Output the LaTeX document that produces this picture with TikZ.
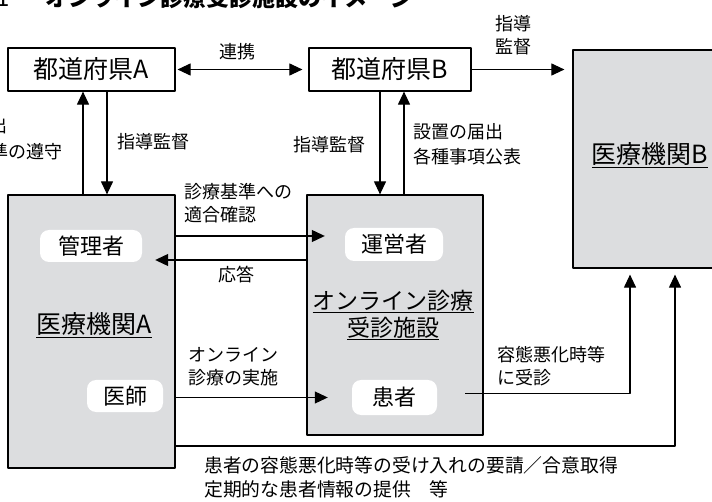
\documentclass[tikz,border=0pt]{standalone}
\usepackage{fontspec}
\setmainfont{Noto Sans CJK JP}
\usetikzlibrary{arrows.meta,calc}
\definecolor{boxgray}{RGB}{220,221,223}
\tikzset{
  pref/.style={draw, fill=white, line width=1.2pt, inner sep=0pt,
    font=\fontsize{25}{28}\selectfont},
  facil/.style={draw, fill=boxgray, line width=1.2pt, inner sep=0pt},
  role/.style={fill=white, rounded corners=9pt, inner sep=0pt,
    font=\fontsize{22}{26}\selectfont},
  lbl/.style={font=\fontsize{18}{23}\selectfont, align=left, inner sep=0pt},
  conn/.style={line width=1.1pt}
}
\begin{document}
\begin{tikzpicture}[x=1pt, y=-1pt, line join=round, >={Triangle[length=13pt,width=12pt]}]
\useasboundingbox (0,0) rectangle (712,502);
% title (cut at the top)
\node[anchor=base east, font=\fontsize{24}{28}\selectfont] (fig) at (13,7) {図1};
\node[anchor=base west, font=\bfseries\fontsize{23}{28}\selectfont] (title) at (42,7) {オンライン診療受診施設のイメージ};
% boxes
\node[pref, minimum width=167pt, minimum height=43pt] (prefA) at (91.5,69.5) {都道府県A};
\node[pref, minimum width=162pt, minimum height=43pt] (prefB) at (390,69.5) {都道府県B};
\node[facil, minimum width=154pt, minimum height=218pt] (iryoB) at (650,159) {};
\node[facil, minimum width=167pt, minimum height=273pt] (iryoA) at (91.5,331.5) {};
\node[facil, minimum width=176pt, minimum height=240pt] (shisetsu) at (395,315) {};
\node[font=\fontsize{25}{28}\selectfont] at (650,155) {\underline{医療機関B}};
\node[font=\fontsize{25}{28}\selectfont] at (94,325) {\underline{医療機関A}};
\node[font=\fontsize{23}{27}\selectfont, align=center] at (393,315) {\underline{オンライン診療}\\\underline{受診施設}};
\node[role, minimum width=102pt, minimum height=32pt] (kanri) at (91,246) {管理者};
\node[role, minimum width=98pt, minimum height=33pt] (unei) at (394,244.5) {運営者};
\node[role, minimum width=76pt, minimum height=32pt] (ishi) at (125,396) {医師};
\node[role, minimum width=85pt, minimum height=35pt] (kanja) at (394.5,397.5) {患者};
% connectors
\draw[conn, <->, shorten <=2pt, shorten >=6pt] (prefA) -- (prefB);
\draw[conn, ->, shorten >=8pt] (prefB.east) -- (prefB.east -| iryoB.west);
\draw[conn, ->] ([xshift=15.5pt]prefA.south) -- ([xshift=15.5pt]prefA.south |- iryoA.north);
\draw[conn, ->] ([xshift=-8.5pt]prefA.south |- iryoA.north) -- ([xshift=-8.5pt]prefA.south);
\draw[conn, ->] ([xshift=-10pt]prefB.south) -- ([xshift=-10pt]prefB.south |- shisetsu.north);
\draw[conn, ->] ([xshift=14pt]prefB.south |- shisetsu.north) -- ([xshift=14pt]prefB.south);
\coordinate (p1) at ($(unei.west)+(-20,-8.5)$);
\draw[conn, ->] (p1 -| iryoA.east) -- (p1);
\coordinate (p2) at ($(kanri.east)+(13,14)$);
\draw[conn, ->] (p2 -| shisetsu.west) -- (p2);
\coordinate (p3) at ($(kanja.west)+(-24,0)$);
\draw[conn, ->] (p3 -| iryoA.east) -- (p3);
\draw[conn, ->, shorten >=6pt] ([xshift=28pt,yshift=4pt]kanja.east) -| ([xshift=-20pt]iryoB.south);
\draw[conn, ->, shorten >=6pt] ([yshift=-114.5pt]iryoA.east) -| ([xshift=25pt]iryoB.south);
% labels
\node[lbl, anchor=center, align=center] (renkei) at (237,52) {連携};
\node[lbl, align=center] (shidoB) at (513,35) {指導\\監督};
\node[lbl, anchor=west] (shidoA) at (117,142) {指導監督};
\node[lbl, anchor=west] (shidoBs) at (293,145) {指導監督};
\node[lbl, anchor=west, font=\fontsize{18}{25}\selectfont] (todoke) at (413,144.5) {設置の届出\\各種事項公表};
\node[lbl, anchor=east] (cutA) at (8,126) {届出};
\node[lbl, anchor=east] (cutB) at (63,152) {診療基準の遵守};
\node[lbl, anchor=west] (tekigo) at (184,203.5) {診療基準への\\適合確認};
\node[lbl] (outo) at (236,275) {応答};
\node[lbl, anchor=west] (jisshi) at (188,367) {オンライン\\診療の実施};
\node[lbl, anchor=west] (jushin) at (497,366) {容態悪化時等\\に受診};
\node[lbl, anchor=west, font=\fontsize{18.8}{24}\selectfont] (yosei) at (204,477) {患者の容態悪化時等の受け入れの要請／合意取得\\定期的な患者情報の提供　等};
\end{tikzpicture}
\end{document}
